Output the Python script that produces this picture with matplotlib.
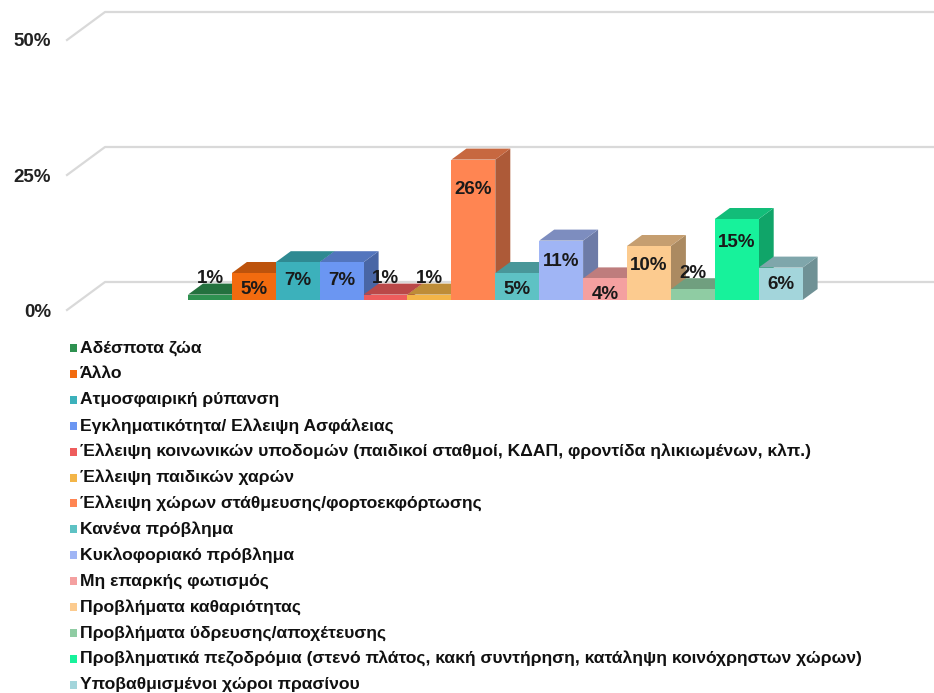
import numpy as np
import matplotlib
matplotlib.use("Agg")
import matplotlib.pyplot as plt
from matplotlib.patches import Polygon, Rectangle
from matplotlib.colors import to_rgb

categories = [
    "Αδέσποτα ζώα",
    "Άλλο",
    "Ατμοσφαιρική ρύπανση",
    "Εγκληματικότητα/ Ελλειψη Ασφάλειας",
    "Έλλειψη κοινωνικών υποδομών (παιδικοί σταθμοί, ΚΔΑΠ, φροντίδα ηλικιωμένων, κλπ.)",
    "Έλλειψη παιδικών χαρών",
    "Έλλειψη χώρων στάθμευσης/φορτοεκφόρτωσης",
    "Κανένα πρόβλημα",
    "Κυκλοφοριακό πρόβλημα",
    "Μη επαρκής φωτισμός",
    "Προβλήματα καθαριότητας",
    "Προβλήματα ύδρευσης/αποχέτευσης",
    "Προβληματικά πεζοδρόμια (στενό πλάτος, κακή συντήρηση, κατάληψη κοινόχρηστων χώρων)",
    "Υποβαθμισμένοι χώροι πρασίνου",
]
values = [1, 5, 7, 7, 1, 1, 26, 5, 11, 4, 10, 2, 15, 6]
colors = ["#2e9150", "#f26b0f", "#3cb1bb", "#6b96f2", "#ee5c5c", "#f3b548", "#ff8552",
          "#5ec2c4", "#a0b5f5", "#f4a0a0", "#fccb8f", "#8fcca3", "#17f29b", "#a3d5db"]
yticks = [0, 25, 50]

W, H = 934, 693
fig = plt.figure(figsize=(W / 100, H / 100), dpi=100)
plt.rcParams["font.family"] = ["Liberation Sans", "DejaVu Sans"]

# axes geometry in pixels
px_left, px_base = 67, 310
px_per_pct = 5.4
px_per_bar = 43.9
first_bar_px = 188
ax = fig.add_axes([px_left / W, 1 - px_base / H, (W - px_left) / W, px_base / H])
x0 = -(first_bar_px - px_left) / px_per_bar
ax.set_xlim(x0, x0 + (W - px_left) / px_per_bar)
ax.set_ylim(0, px_base / px_per_pct)
ax.axis("off")

def dx(px):
    return px / px_per_bar

def dy(px):
    return px / px_per_pct

# walls / gridlines
wall_dx, wall_dy = dx(38), dy(28)
for v in yticks:
    ax.plot([x0, x0 + wall_dx, x0 + 30], [v, v + wall_dy, v + wall_dy],
            color="#d9d9d9", lw=1.6, zorder=1, clip_on=False)
    fig.text(51 / W, 1 - (px_base - v * px_per_pct + 2) / H, f"{v}%",
             ha="right", va="center", fontsize=13.5, fontweight="bold", color="#222222")

# 3D-looking bars
base = dy(10)
bdx, bdy = dx(15), dy(11)
for i, (v, c) in enumerate(zip(values, colors)):
    rgb = np.array(to_rgb(c))
    top_c = rgb * 0.78
    side_c = rgb * 0.68
    z = 3 + i
    b, t = base, base + v
    l, r = i, i + 1
    ax.add_patch(Polygon([(r, b), (r + bdx, b + bdy), (r + bdx, t + bdy), (r, t)],
                         closed=True, facecolor=side_c, edgecolor="none", zorder=z))
    ax.add_patch(Polygon([(l, t), (r, t), (r + bdx, t + bdy), (l + bdx, t + bdy)],
                         closed=True, facecolor=top_c, edgecolor="none", zorder=z))
    ax.bar(l, v, width=1, bottom=b, align="edge", color=c, edgecolor="none", zorder=z)
    if v >= 4:
        ly = t - (2.5 + 0.12 * v)
    else:
        ly = t + 2.9
    ax.text(l + 0.5, ly, f"{v}%", ha="center", va="center", fontsize=13.5,
            fontweight="bold", color="#1a1a1a", zorder=50)

# legend
row0, row_step = 348, 25.9
for i, (lab, c) in enumerate(zip(categories, colors)):
    yc = row0 + i * row_step
    fig.patches.append(Rectangle((70 / W, 1 - (yc + 4) / H), 7 / W, 8 / H,
                                 transform=fig.transFigure, facecolor=c, edgecolor="none"))
    fig.text(80 / W, 1 - yc / H, lab, ha="left", va="center", fontsize=12.6,
             fontweight="bold", color="#111111")

fig.savefig("out.png", dpi=100)
